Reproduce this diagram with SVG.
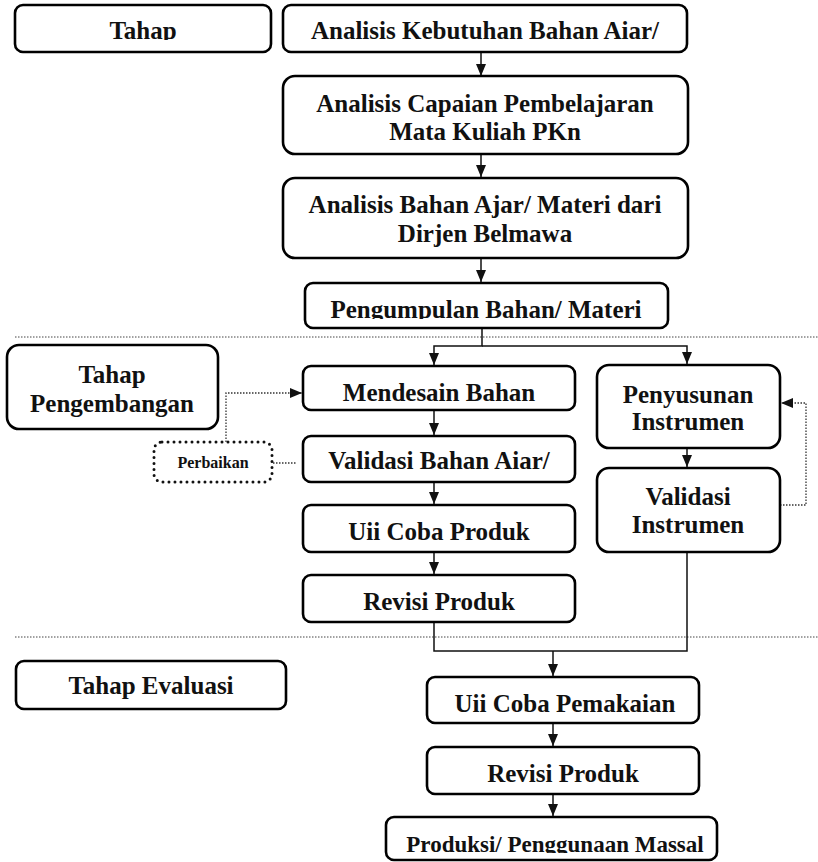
<svg xmlns="http://www.w3.org/2000/svg" width="818" height="862" viewBox="0 0 818 862">
<style>
.box{fill:#fff;stroke:#000;stroke-width:2.6}
.t{font-family:"Liberation Serif","Times New Roman",serif;font-weight:700;font-size:25px;fill:#111;text-anchor:middle}
.s{font-size:16px}
.c{fill:none;stroke:#111;stroke-width:1.5}
.d{fill:none;stroke:#333;stroke-width:1.3;stroke-dasharray:1.5 1.5}
.sep{fill:none;stroke:#444;stroke-width:1;stroke-dasharray:1.5 1.5}
.pb{fill:#fff;stroke:#111;stroke-width:3;stroke-dasharray:0 6;stroke-linecap:round}
</style>
<defs>
<marker id="ah" viewBox="0 0 12 10" refX="12" refY="5" markerWidth="12" markerHeight="10" markerUnits="userSpaceOnUse" orient="auto">
<path d="M0,0 L12,5 L0,10 z" fill="#111"/>
</marker>
<clipPath id="c1"><rect x="0" y="0" width="818" height="40"/></clipPath>
<clipPath id="c4"><rect x="0" y="280" width="818" height="39"/></clipPath>
<clipPath id="c6"><rect x="0" y="440" width="818" height="30.5"/></clipPath>
<clipPath id="c7"><rect x="0" y="505" width="818" height="36"/></clipPath>
<clipPath id="c12"><rect x="0" y="680" width="818" height="33"/></clipPath>
<clipPath id="c14"><rect x="0" y="820" width="818" height="33"/></clipPath>
</defs>

<line class="sep" x1="15" y1="337" x2="818" y2="337"/>
<line class="sep" x1="15" y1="637" x2="818" y2="637"/>

<g id="connectors">
<path class="c" d="M481,52 V76" marker-end="url(#ah)"/>
<path class="c" d="M481,154 V177" marker-end="url(#ah)"/>
<path class="c" d="M481,258 V282" marker-end="url(#ah)"/>
<path class="c" d="M482,328 V346 H434 V365" marker-end="url(#ah)"/>
<path class="c" d="M482,346 H687 V364" marker-end="url(#ah)"/>
<path class="c" d="M434,410 V435" marker-end="url(#ah)"/>
<path class="c" d="M434,482 V504" marker-end="url(#ah)"/>
<path class="c" d="M434,552 V574" marker-end="url(#ah)"/>
<path class="c" d="M687,448 V467" marker-end="url(#ah)"/>
<path class="c" d="M434,622 V651 H687 V552"/>
<path class="c" d="M553,651 V676" marker-end="url(#ah)"/>
<path class="c" d="M553,723 V746" marker-end="url(#ah)"/>
<path class="c" d="M553,794 V816" marker-end="url(#ah)"/>
<path class="d" d="M226,442 V393 H302" marker-end="url(#ah)"/>
<path class="d" d="M273,463 H297"/>
<path class="d" d="M780,505 H806 V403 H781" marker-end="url(#ah)"/>
</g>

<g id="n-tahap">
<rect class="box" x="15" y="5" width="256" height="47" rx="8"/>
<text class="t" x="143" y="39" clip-path="url(#c1)">Tahap</text>
</g>
<g id="n-kebutuhan">
<rect class="box" x="283" y="5" width="404" height="47" rx="8"/>
<text class="t" x="485" y="39" clip-path="url(#c1)">Analisis Kebutuhan Bahan Aiar/</text>
</g>
<g id="n-capaian">
<rect class="box" x="283" y="76" width="405" height="78" rx="12"/>
<text class="t" x="485" y="112">Analisis Capaian Pembelajaran</text>
<text class="t" x="485" y="140">Mata Kuliah PKn</text>
</g>
<g id="n-bahan">
<rect class="box" x="283" y="178" width="405" height="80" rx="12"/>
<text class="t" x="485" y="213">Analisis Bahan Ajar/ Materi dari</text>
<text class="t" x="485" y="242">Dirjen Belmawa</text>
</g>
<g id="n-pengumpulan">
<rect class="box" x="305" y="283" width="363" height="45" rx="8"/>
<text class="t" x="486" y="318" clip-path="url(#c4)">Pengumpulan Bahan/ Materi</text>
</g>
<g id="n-tahap-pengembangan">
<rect class="box" x="7" y="345" width="211" height="84" rx="12"/>
<text class="t" x="112" y="383">Tahap</text>
<text class="t" x="112" y="412">Pengembangan</text>
</g>
<g id="n-perbaikan">
<rect class="pb" x="154" y="442" width="118" height="40" rx="8"/>
<text class="t s" x="213" y="468">Perbaikan</text>
</g>
<g id="n-mendesain">
<rect class="box" x="303" y="366" width="272" height="44" rx="8"/>
<text class="t" x="439" y="401">Mendesain Bahan</text>
</g>
<g id="n-validasi-bahan">
<rect class="box" x="303" y="436" width="272" height="46" rx="8"/>
<text class="t" x="439" y="469" clip-path="url(#c6)">Validasi Bahan Aiar/</text>
</g>
<g id="n-uji-produk">
<rect class="box" x="303" y="505" width="272" height="47" rx="8"/>
<text class="t" x="439" y="540" clip-path="url(#c7)">Uii Coba Produk</text>
</g>
<g id="n-revisi-produk">
<rect class="box" x="303" y="575" width="272" height="47" rx="8"/>
<text class="t" x="439" y="610">Revisi Produk</text>
</g>
<g id="n-penyusunan">
<rect class="box" x="597" y="365" width="183" height="83" rx="12"/>
<text class="t" x="688" y="403">Penyusunan</text>
<text class="t" x="688" y="430">Instrumen</text>
</g>
<g id="n-validasi-instrumen">
<rect class="box" x="597" y="468" width="183" height="84" rx="12"/>
<text class="t" x="688" y="505">Validasi</text>
<text class="t" x="688" y="533">Instrumen</text>
</g>
<g id="n-tahap-evaluasi">
<rect class="box" x="16" y="661" width="270" height="48" rx="8"/>
<text class="t" x="151" y="694">Tahap Evaluasi</text>
</g>
<g id="n-uji-pemakaian">
<rect class="box" x="427" y="677" width="272" height="46" rx="8"/>
<text class="t" x="565" y="712" clip-path="url(#c12)">Uii Coba Pemakaian</text>
</g>
<g id="n-revisi-eval">
<rect class="box" x="427" y="747" width="272" height="47" rx="8"/>
<text class="t" x="563" y="782">Revisi Produk</text>
</g>
<g id="n-produksi">
<rect class="box" x="386" y="817" width="331" height="43" rx="8"/>
<text class="t" x="555" y="852" style="font-size:23px" clip-path="url(#c14)">Produksi/ Penggunaan Massal</text>
</g>
</svg>
